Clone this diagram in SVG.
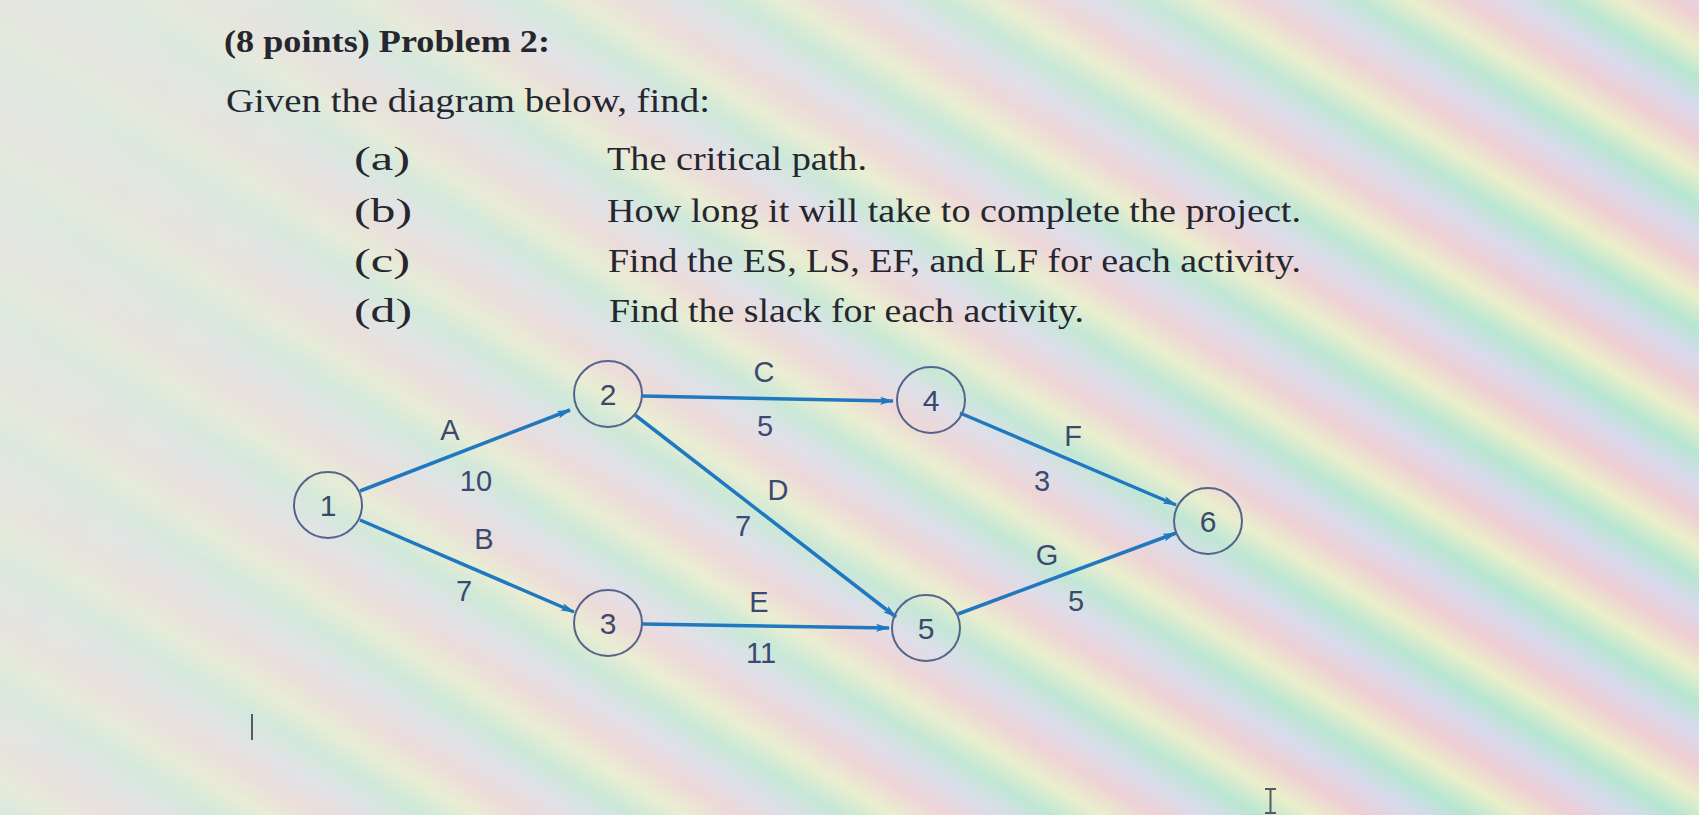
<svg xmlns="http://www.w3.org/2000/svg" width="1699" height="815" viewBox="0 0 1699 815">
<defs>
<linearGradient id="bg" x1="0" y1="0" x2="1699" y2="815" gradientUnits="userSpaceOnUse">
<stop offset="0" stop-color="#e3e9e0"/>
<stop offset="0.5" stop-color="#e8ece2"/>
<stop offset="1" stop-color="#dde9e2"/>
</linearGradient>
<linearGradient id="bands" x1="0" y1="0" x2="55" y2="-92" gradientUnits="userSpaceOnUse" spreadMethod="repeat">
<stop offset="0" stop-color="#f4c4cf"/>
<stop offset="0.25" stop-color="#d6d4f0"/>
<stop offset="0.5" stop-color="#a9e4cc"/>
<stop offset="0.75" stop-color="#eef0c0"/>
<stop offset="1" stop-color="#f4c4cf"/>
</linearGradient>
<linearGradient id="fade" x1="100" y1="0" x2="1500" y2="600" gradientUnits="userSpaceOnUse">
<stop offset="0" stop-color="#fff" stop-opacity="0.08"/>
<stop offset="0.4" stop-color="#fff" stop-opacity="0.4"/>
<stop offset="1" stop-color="#fff" stop-opacity="0.75"/>
</linearGradient>
<mask id="m"><rect width="1699" height="815" fill="url(#fade)"/></mask>
<marker id="ah" viewBox="0 0 14 8" refX="13" refY="4" markerWidth="14" markerHeight="8" markerUnits="userSpaceOnUse" orient="auto">
<path d="M0,0 L14,4 L0,8 L3,4 Z" fill="#1f78c0"/>
</marker>
<style>
.t{font-family:"Liberation Serif","Times New Roman",serif;fill:#26262e;font-size:33px}
.b{font-weight:bold;font-size:31px}
.lbl{font-family:"Liberation Sans",Arial,sans-serif;fill:#3b4a70;font-size:29px;text-anchor:middle}
.node ellipse{fill:none;stroke:#56648c;stroke-width:2}
.node text{font-family:"Liberation Sans",Arial,sans-serif;fill:#3b4a6a;font-size:30px;text-anchor:middle}
.edge{stroke:#1f78c0;stroke-width:3.5;fill:none;marker-end:url(#ah)}
</style>
</defs>
<rect width="1699" height="815" fill="url(#bg)"/>
<rect width="1699" height="815" fill="url(#bands)" mask="url(#m)"/>

<g id="text">
<text class="t b" x="224" y="52" textLength="326" lengthAdjust="spacingAndGlyphs">(8 points) Problem 2:</text>
<text class="t" x="226" y="112" textLength="484" lengthAdjust="spacingAndGlyphs">Given the diagram below, find:</text>
<text class="t" x="354" y="170" textLength="56" lengthAdjust="spacingAndGlyphs">(a)</text>
<text class="t" x="607" y="170" textLength="260" lengthAdjust="spacingAndGlyphs">The critical path.</text>
<text class="t" x="354" y="222" textLength="58" lengthAdjust="spacingAndGlyphs">(b)</text>
<text class="t" x="607" y="222" textLength="694" lengthAdjust="spacingAndGlyphs">How long it will take to complete the project.</text>
<text class="t" x="354" y="272" textLength="56" lengthAdjust="spacingAndGlyphs">(c)</text>
<text class="t" x="608" y="272" textLength="693" lengthAdjust="spacingAndGlyphs">Find the ES, LS, EF, and LF for each activity.</text>
<text class="t" x="354" y="322" textLength="58" lengthAdjust="spacingAndGlyphs">(d)</text>
<text class="t" x="609" y="322" textLength="475" lengthAdjust="spacingAndGlyphs">Find the slack for each activity.</text>
</g>

<g id="connectors">
<line class="edge" x1="360" y1="491" x2="570" y2="410"/>
<line class="edge" x1="360" y1="520" x2="574" y2="612"/>
<line class="edge" x1="642" y1="396" x2="893" y2="401"/>
<line class="edge" x1="635" y1="415" x2="896" y2="617"/>
<line class="edge" x1="642" y1="624" x2="889" y2="628"/>
<line class="edge" x1="960" y1="413" x2="1176" y2="505"/>
<line class="edge" x1="958" y1="614" x2="1176" y2="533"/>
</g>

<g id="labels">
<text class="lbl" x="450" y="440">A</text>
<text class="lbl" x="476" y="491">10</text>
<text class="lbl" x="484" y="549">B</text>
<text class="lbl" x="464" y="601">7</text>
<text class="lbl" x="764" y="382">C</text>
<text class="lbl" x="765" y="436">5</text>
<text class="lbl" x="778" y="500">D</text>
<text class="lbl" x="743" y="536">7</text>
<text class="lbl" x="759" y="612">E</text>
<text class="lbl" x="761" y="663">11</text>
<text class="lbl" x="1073" y="446">F</text>
<text class="lbl" x="1042" y="491">3</text>
<text class="lbl" x="1047" y="565">G</text>
<text class="lbl" x="1076" y="611">5</text>
</g>

<g id="node1" class="node"><ellipse cx="328" cy="505" rx="34" ry="33"/><text x="328" y="516">1</text></g>
<g id="node2" class="node"><ellipse cx="608" cy="394" rx="34" ry="33"/><text x="608" y="405">2</text></g>
<g id="node3" class="node"><ellipse cx="608" cy="623" rx="34" ry="33"/><text x="608" y="634">3</text></g>
<g id="node4" class="node"><ellipse cx="931" cy="400" rx="34" ry="33"/><text x="931" y="411">4</text></g>
<g id="node5" class="node"><ellipse cx="926" cy="628" rx="34" ry="33"/><text x="926" y="639">5</text></g>
<g id="node6" class="node"><ellipse cx="1208" cy="521" rx="34" ry="33"/><text x="1208" y="532">6</text></g>

<g id="cursors" stroke="#555a66" stroke-width="2" fill="none">
<line x1="252" y1="714" x2="252" y2="740"/>
<path d="M1265,789 H1276 M1270.5,789 V813 M1265,813 H1276"/>
</g>
</svg>
